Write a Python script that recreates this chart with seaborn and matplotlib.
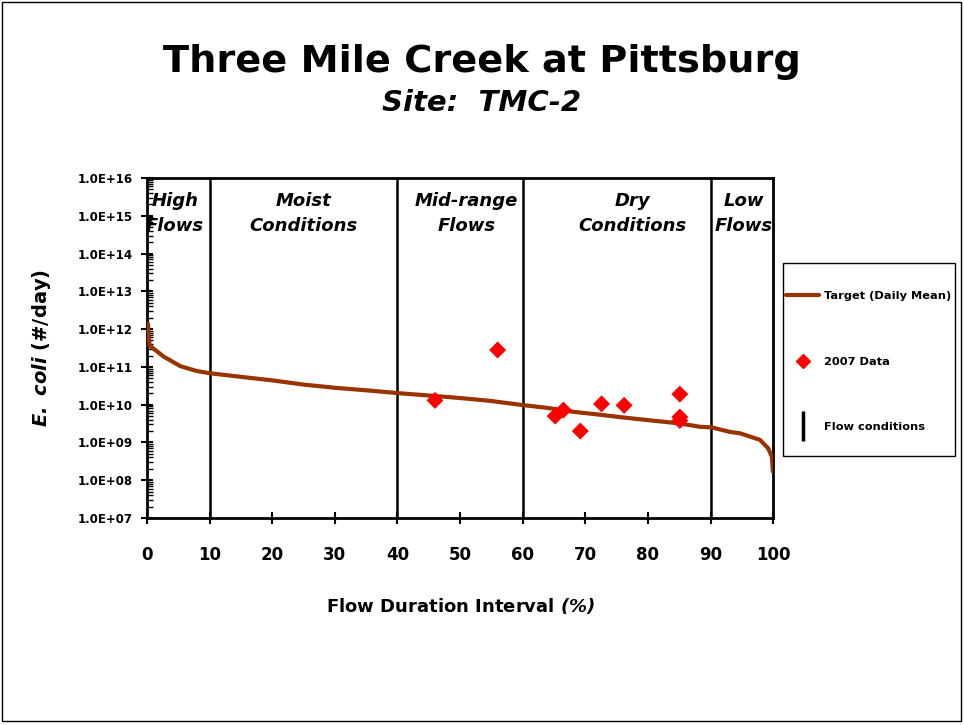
import numpy as np
import pandas as pd
import seaborn as sns
import matplotlib.pyplot as plt
from matplotlib.lines import Line2D
from matplotlib.patches import Rectangle
from matplotlib.ticker import LogLocator, FuncFormatter

# Target curve (daily mean load duration curve)
flow_pct = [0.15, 0.4, 2.6, 5.3, 7.9, 10, 16.5, 20, 25, 30, 35, 40.4, 45, 50, 54.8, 59.9,
            64, 68, 72, 76, 80, 85, 88.3, 90.2, 93.1, 94.7, 97.9, 99.2, 99.8, 99.95]
target = [1.4e12, 3.7e11, 1.9e11, 1.05e11, 7.8e10, 6.8e10, 5.1e10, 4.4e10, 3.4e10, 2.8e10,
          2.4e10, 2.0e10, 1.75e10, 1.5e10, 1.26e10, 9.8e9,
          8.2e9, 6.5e9, 5.5e9, 4.6e9, 3.9e9, 3.2e9, 2.6e9, 2.5e9, 1.9e9, 1.75e9, 1.17e9,
          7e8, 4.2e8, 1.7e8]

# 2007 sample data
data_pct = [46, 56, 65.2, 66.5, 69.2, 72.6, 76.2, 85.1, 85.1, 85.1]
data_load = [1.3e10, 2.8e11, 5e9, 7.2e9, 2e9, 1.05e10, 9.6e9, 1.9e10, 4.7e9, 3.8e9]

# flow condition boundaries and zone labels
bounds = [10, 40, 60, 90]
zone_names = ["High\nFlows", "Moist\nConditions", "Mid-range\nFlows", "Dry\nConditions", "Low\nFlows"]
zone_pos = [4.5, 25, 51, 77.6, 95.3]

sns.set_style("ticks")
plt.rcParams['font.family'] = ['DejaVu Sans']
plt.rcParams['font.weight'] = 'bold'
plt.rcParams['mathtext.fontset'] = 'custom'
plt.rcParams['mathtext.bf'] = 'DejaVu Sans:italic:bold'
for k in ['text.color', 'axes.labelcolor', 'xtick.color', 'ytick.color', 'axes.edgecolor']:
    plt.rcParams[k] = 'black'

curve = pd.DataFrame({'pct': flow_pct, 'load': target})
pts = pd.DataFrame({'pct': data_pct, 'load': data_load})

fig = plt.figure(figsize=(9.64, 7.25), dpi=100)
ax = fig.add_axes([0.1525, 0.2855, 0.6495, 0.469])

brown = '#993300'
sns.lineplot(data=curve, x='pct', y='load', color=brown, lw=3, ax=ax, zorder=4)
sns.scatterplot(data=pts, x='pct', y='load', color='red', marker='D', s=75,
                edgecolor='none', ax=ax, zorder=5)

for b in bounds:
    ax.axvline(b, color='black', lw=1.8)

ax.set_yscale('log')
ax.set_xlim(0, 100)
ax.set_ylim(1e7, 1e16)
ax.set_xticks(range(0, 101, 10))
ax.yaxis.set_major_locator(LogLocator(base=10, numticks=20))
ax.yaxis.set_minor_locator(LogLocator(base=10, subs=np.arange(2, 10), numticks=20))
ax.yaxis.set_major_formatter(FuncFormatter(lambda v, p: "1.0E+%02d" % round(np.log10(v))))
ax.tick_params(axis='y', which='major', direction='inout', length=8, width=1.5,
               labelsize=8.5, pad=6)
ax.tick_params(axis='y', which='minor', direction='in', length=4, width=1)
ax.tick_params(axis='x', direction='inout', length=8, width=1.5, labelsize=12, pad=16)
for s in ax.spines.values():
    s.set_linewidth(2)

for name, xp in zip(zone_names, zone_pos):
    ax.text(xp, 0.958, name, ha='center', va='top', fontsize=13,
            style='italic', fontweight='bold', linespacing=1.5,
            transform=ax.get_xaxis_transform())

ax.set_xlabel(r"Flow Duration Interval $\mathbf{(\%)}$", fontsize=13, labelpad=23,
              fontweight='bold')
ax.set_ylabel(r"$\mathbf{E.\ coli}$ (#/day)", fontsize=14, labelpad=18, fontweight='bold')

fig.text(0.5, 0.915, "Three Mile Creek at Pittsburg", ha='center', va='center',
         fontsize=27.5, fontweight='bold')
fig.text(0.5, 0.858, "Site:  TMC-2", ha='center', va='center', fontsize=21,
         fontweight='bold', style='italic')

handles = [Line2D([], [], color=brown, lw=3),
           Line2D([], [], color='red', marker='D', ls='none', markersize=7),
           Line2D([], [], color='black', marker='|', ls='none', markersize=22, mew=2.5)]
labels = ["Target (Daily Mean)", "2007 Data", "Flow conditions"]
leg = fig.legend(handles, labels, loc='upper left', bbox_to_anchor=(784 / 964, 1 - 289 / 725),
                 frameon=False, fontsize=8.2, labelspacing=4.85, handlelength=2.9,
                 borderpad=0.2, borderaxespad=0, handletextpad=0.4)

fig.patches.append(Rectangle((783 / 964, 1 - 456 / 725), 172 / 964, 193 / 725,
                             transform=fig.transFigure, fill=False, edgecolor='black', lw=1))
fig.patches.append(Rectangle((0.002, 0.005), 0.995, 0.992, transform=fig.transFigure,
                             fill=False, edgecolor='black', lw=1))

fig.savefig("out.png", dpi=100)
